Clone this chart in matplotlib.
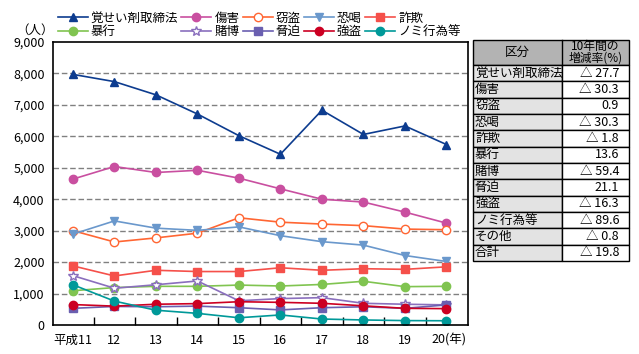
import matplotlib
matplotlib.use("Agg")
import matplotlib.pyplot as plt
from matplotlib.patches import Rectangle

plt.rcParams['font.family'] = ['Noto Sans CJK JP', 'DejaVu Sans']

years = ['平成11', '12', '13', '14', '15', '16', '17', '18', '19', '20(年)']

kakuseizai = [7970, 7740, 7320, 6710, 6020, 5430, 6830, 6060, 6330, 5740]
shougai    = [4640, 5040, 4850, 4920, 4670, 4330, 4000, 3910, 3590, 3240]
settou     = [3000, 2640, 2770, 2920, 3410, 3270, 3210, 3160, 3050, 3030]
kyoukatsu  = [2890, 3310, 3080, 3010, 3120, 2840, 2650, 2540, 2210, 2020]
sagi       = [1880, 1560, 1740, 1700, 1700, 1820, 1740, 1790, 1770, 1850]
boukou     = [1090, 1190, 1230, 1230, 1270, 1240, 1290, 1390, 1220, 1230]
tobaku     = [1570, 1170, 1280, 1400, 770, 840, 870, 690, 660, 640]
kyouhaku   = [530, 590, 580, 600, 550, 480, 550, 580, 530, 640]
goutou     = [650, 600, 660, 680, 740, 720, 690, 610, 530, 520]
nomi       = [1280, 760, 470, 370, 230, 320, 190, 160, 140, 135]

series_names = ['覚せい剤取締法', '傷害', '窃盗', '恐喝', '詐欺',
                '暴行', '賭博', '脅迫', '強盗', 'ノミ行為等']
series_vals = [kakuseizai, shougai, settou, kyoukatsu, sagi,
               boukou, tobaku, kyouhaku, goutou, nomi]

table_cats = ['覚せい剤取締法', '傷害', '窃盗', '恐喝', '詐欺', '暴行', '賭博',
              '脅迫', '強盗', 'ノミ行為等', 'その他', '合計']
table_rates = ['△ 27.7', '△ 30.3', '0.9', '△ 30.3', '△ 1.8', '13.6',
               '△ 59.4', '21.1', '△ 16.3', '△ 89.6', '△ 0.8', '△ 19.8']

styles = [
    dict(color='#0d3c8f', marker='^', mfc='#0d3c8f', ms=6),
    dict(color='#c94fa0', marker='o', mfc='#c94fa0', ms=6),
    dict(color='#ff6633', marker='o', mfc='white', ms=6),
    dict(color='#6a98cc', marker='v', mfc='#6a98cc', ms=6),
    dict(color='#f5504a', marker='s', mfc='#f5504a', ms=6),
    dict(color='#80c450', marker='o', mfc='#80c450', ms=6),
    dict(color='#8a6fbd', marker='*', mfc='white', ms=7),
    dict(color='#6a5fb0', marker='s', mfc='#6a5fb0', ms=6),
    dict(color='#cc0022', marker='o', mfc='#cc0022', ms=6),
    dict(color='#009999', marker='o', mfc='#009999', ms=6),
]

W, H = 639, 354
fig = plt.figure(figsize=(W / 100, H / 100), dpi=100)
ax = fig.add_axes([53 / W, 1 - 325 / H, (468 - 53) / W, (325 - 42) / H])

x = list(range(len(years)))
handles = []
for name, vals, st in zip(series_names, series_vals, styles):
    h, = ax.plot(x, vals, color=st['color'], lw=1.2, marker=st['marker'],
                 markerfacecolor=st['mfc'], markeredgecolor=st['color'],
                 markersize=st['ms'], label=name)
    handles.append(h)

ax.set_xlim(-0.48, 9.52)
ax.set_ylim(0, 9000)
ax.set_yticks(range(0, 9001, 1000))
ax.set_yticklabels([f'{v:,}' for v in range(0, 9001, 1000)], fontsize=9)
ax.tick_params(axis='y', length=0, pad=6)
for yv in range(1000, 9000, 1000):
    ax.axhline(yv, color='#808080', lw=1, ls=(0, (4, 2)), zorder=0)

ax.set_xticks([i + 0.5 for i in range(9)])
ax.set_xticklabels([])
ax.tick_params(axis='x', direction='in', length=6, width=1)
for i, lab in enumerate(years):
    if lab.endswith('(年)'):
        ax.text(i - 0.35, -280, lab, ha='left', va='top', fontsize=9)
    else:
        ax.text(i, -280, lab, ha='center', va='top', fontsize=9)

for sp in ax.spines.values():
    sp.set_linewidth(1.2)

fig.text(54 / W, 1 - 30 / H, '（人）', ha='right', va='center', fontsize=9)

# Legend (2 rows x 5 columns, filled row-wise)
order = [0, 5, 1, 6, 2, 7, 3, 8, 4, 9]
fig.legend(handles=[handles[i] for i in order], ncol=5,
           loc='upper left', bbox_to_anchor=(50 / W, 1 - 4 / H),
           frameon=False, fontsize=9, handlelength=2.4,
           handletextpad=0.25, columnspacing=0.25,
           labelspacing=0.05, borderpad=0.1)

# Table
tx0, tx1, tx2 = 473, 562, 629
ty_top, ty_head = 40, 65
row_h = (261 - 65) / len(table_cats)
tax = fig.add_axes([0, 0, 1, 1])
tax.set_xlim(0, W)
tax.set_ylim(H, 0)
tax.axis('off')
tax.add_patch(Rectangle((tx0, ty_top), tx2 - tx0, ty_head - ty_top,
                        facecolor='#b3b3b3', edgecolor='black', lw=1))
tax.plot([tx1, tx1], [ty_top, ty_head], color='black', lw=1)
tax.text((tx0 + tx1) / 2, (ty_top + ty_head) / 2, '区分', ha='center',
         va='center', fontsize=9)
tax.text((tx1 + tx2) / 2, (ty_top + ty_head) / 2, '10年間の\n増減率(%)',
         ha='center', va='center', fontsize=8.5, linespacing=0.85)
for i, (c, r) in enumerate(zip(table_cats, table_rates)):
    y0 = ty_head + i * row_h
    tax.add_patch(Rectangle((tx0, y0), tx1 - tx0, row_h,
                            facecolor='#e3e3e3', edgecolor='black', lw=1))
    tax.add_patch(Rectangle((tx1, y0), tx2 - tx1, row_h,
                            facecolor='white', edgecolor='black', lw=1))
    tax.text(tx0 + 2, y0 + row_h / 2, c, ha='left', va='center', fontsize=9)
    tax.text(tx2 - 10, y0 + row_h / 2, r, ha='right', va='center', fontsize=9)

fig.savefig('out.png', dpi=100)
